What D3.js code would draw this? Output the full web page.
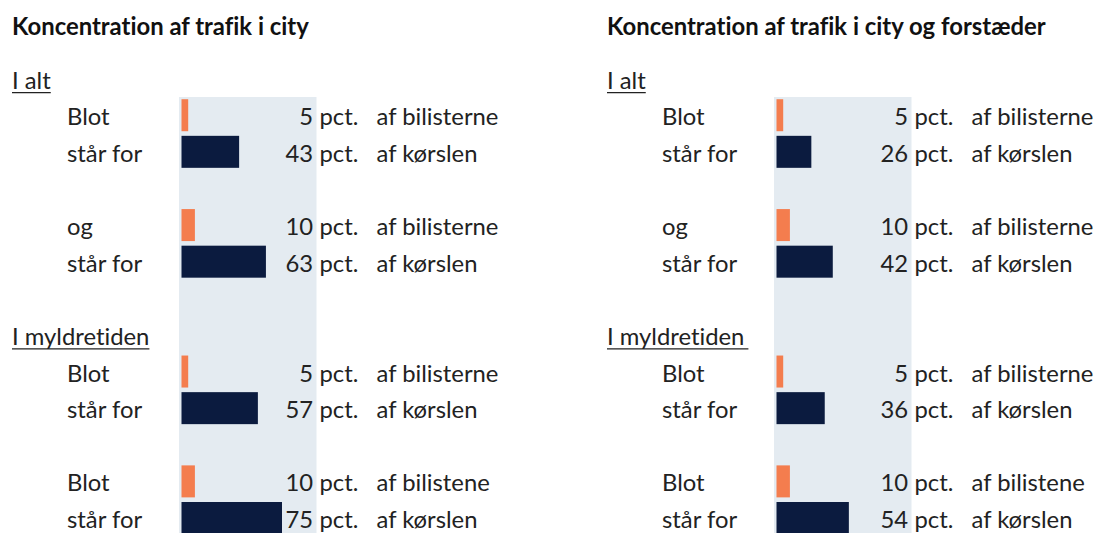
<!DOCTYPE html>
<html>
<head>
<meta charset="utf-8">
<script src="https://cdn.jsdelivr.net/npm/d3@7"></script>
<style>
  html, body { margin: 0; padding: 0; background: #ffffff; }
  svg { display: block; }
  svg text { font-variant-ligatures: none; font-feature-settings: "liga" 0, "clig" 0; }
</style>
</head>
<body>
<svg id="chart" width="1096" height="533"></svg>
<script>
// ---- data ----
const panelTitles = ["Koncentration af trafik i city", "Koncentration af trafik i city og forstæder"];
const groupLabels = ["I alt", "I myldretiden"];
const groupSlots = [0, 7];
const rowLabels = ["Blot", "står for", "og", "står for", "Blot", "står for", "Blot", "står for"];
const rowUnits = ["af bilisterne", "af kørslen", "af bilisterne", "af kørslen", "af bilisterne", "af kørslen", "af bilistene", "af kørslen"];
const rowSlots = [1, 2, 4, 5, 8, 9, 11, 12];
const rowKinds = ["drivers", "driving", "drivers", "driving", "drivers", "driving", "drivers", "driving"];
const cityValues = [5, 43, 10, 63, 5, 57, 10, 75];
const suburbValues = [5, 26, 10, 42, 5, 36, 10, 54];
const panelValues = [cityValues, suburbValues];

// ---- styles ----
const W = 1096, H = 533;
const colors = { drivers: "#F47D4E", driving: "#0B1B3F" };
const bandColor = "#E4EBF1";
const textColor = "#222222";
const fontFamily = "Lato, 'Liberation Sans', sans-serif";
const panelX = [12, 607];

const svg = d3.select("#chart");

// fit font size to reference widths
function fitSize(str, targetW, weight) {
  const t = svg.append("text").attr("font-family", fontFamily).attr("font-size", 20)
    .attr("font-weight", weight).text(str);
  const w = t.node().getComputedTextLength();
  t.remove();
  return 20 * targetW / w;
}
const bodySize = fitSize("af bilisterne", 122, 400);
const titleSize = fitSize("Koncentration af trafik i city", 297, 700);

// vertical scale: slot -> row center
const y = d3.scaleLinear().domain([0, 12]).range([78.6, 518]);
const barH = 32;

panelValues.forEach((vals, p) => {
  const x0 = panelX[p];
  const g = svg.append("g");
  const x = d3.scaleLinear().domain([0, 100]).range([x0 + 169.5, x0 + 169.5 + 134]);

  // background band
  g.append("rect")
    .attr("x", x0 + 167).attr("y", 97)
    .attr("width", 137.5).attr("height", H - 97)
    .attr("fill", bandColor);

  // title
  g.append("text")
    .attr("x", x0).attr("y", 35)
    .attr("font-family", fontFamily).attr("font-weight", 700)
    .attr("font-size", titleSize).attr("fill", "#111")
    .text(panelTitles[p]);

  // group headers (underlined)
  groupLabels.forEach((lab, i) => {
    const t = g.append("text")
      .attr("x", x0).attr("y", y(groupSlots[i]) + 10.5)
      .attr("font-family", fontFamily).attr("font-size", bodySize)
      .attr("fill", textColor).text(lab);
    const w = t.node().getComputedTextLength() + (p === 1 && i === 1 ? 4 : 0);
    g.append("line")
      .attr("x1", x0).attr("x2", x0 + w)
      .attr("y1", y(groupSlots[i]) + 14).attr("y2", y(groupSlots[i]) + 14)
      .attr("stroke", textColor).attr("stroke-width", 1.2);
  });

  // bars
  g.selectAll("rect.bar").data(vals).join("rect")
    .attr("class", "bar")
    .attr("x", x(0))
    .attr("y", (d, i) => y(rowSlots[i]) - barH / 2)
    .attr("width", d => x(d) - x(0))
    .attr("height", barH)
    .attr("fill", (d, i) => colors[rowKinds[i]]);

  const txt = (sel) => sel.attr("font-family", fontFamily).attr("font-size", bodySize).attr("fill", textColor);

  g.selectAll("text.lab").data(rowLabels).join("text").attr("class", "lab")
    .call(txt)
    .attr("x", x0 + 55).attr("y", (d, i) => y(rowSlots[i]) + 10)
    .text(d => d);

  g.selectAll("text.val").data(vals).join("text").attr("class", "val")
    .call(txt)
    .attr("text-anchor", "end")
    .attr("x", x0 + 301).attr("y", (d, i) => y(rowSlots[i]) + 10)
    .text(d => d);

  g.selectAll("text.pct").data(vals).join("text").attr("class", "pct")
    .call(txt)
    .attr("x", x0 + 307.5).attr("y", (d, i) => y(rowSlots[i]) + 10)
    .text("pct.");

  g.selectAll("text.unit").data(rowUnits).join("text").attr("class", "unit")
    .call(txt)
    .attr("x", x0 + 364.5).attr("y", (d, i) => y(rowSlots[i]) + 10)
    .text(d => d);
});
</script>
</body>
</html>
